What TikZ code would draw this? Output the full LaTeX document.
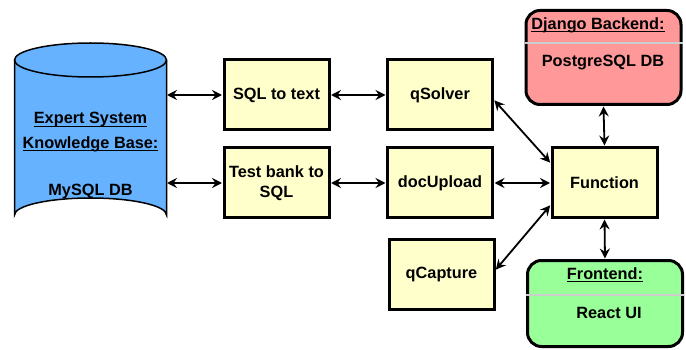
\documentclass[tikz,border=0pt]{standalone}
\usepackage{fontspec}
\setmainfont{Liberation Sans}
\usetikzlibrary{arrows.meta}
\definecolor{dbblue}{HTML}{66B2FF}
\definecolor{boxyellow}{HTML}{FFFFCC}
\definecolor{djred}{HTML}{FF9999}
\definecolor{fegreen}{HTML}{99FF99}
\newcommand\myul[1]{\setbox0\hbox{#1}\rlap{\color{black}\vrule width\wd0 height -1.6pt depth 3pt}\box0}
\tikzset{
  ybox/.style={draw=black, line width=3pt, fill=boxyellow, minimum width=105pt, minimum height=70pt, align=center, inner sep=2pt, font=\fontsize{16.3}{20}\selectfont\bfseries},
  rbox/.style={draw=black, line width=3pt, rounded corners=14pt, minimum width=155pt, align=center},
  lbl/.style={font=\fontsize{16.3}{20}\selectfont\bfseries, inner sep=0pt},
  conn/.style={line width=1.8pt, {Stealth[length=10pt,width=10pt,inset=3.5pt]}-{Stealth[length=10pt,width=10pt,inset=3.5pt]}, shorten <=0.5pt, shorten >=0.5pt}
}
\begin{document}
\begin{tikzpicture}[x=1pt,y=-1pt]
\useasboundingbox (0,0) rectangle (686,350);
% cylinder
\fill[dbblue] (14.5,60) -- (14.5,215) arc[start angle=180,end angle=360,x radius=76,y radius=17] -- (166.5,60) arc[start angle=0,end angle=-180,x radius=76,y radius=17] -- cycle;
\draw[line width=1.5pt] (14.5,60) -- (14.5,215) arc[start angle=180,end angle=360,x radius=76,y radius=17] -- (166.5,60);
\draw[line width=1.5pt] (90.5,60) ellipse[x radius=76,y radius=17];
\node[lbl] (es) at (90.5,120) {\myul{Expert System}};
\node[lbl] (kb) at (90.5,144) {\myul{Knowledge Base:}};
\node[lbl] (my) at (90.5,192) {MySQL DB};
\coordinate (cylA) at (166.5,95);
\coordinate (cylB) at (166.5,183);
% yellow boxes
\node[ybox] (sql) at (276.5,95) {SQL to text};
\node[ybox] (tb) at (276.5,183) {Test bank to\\SQL};
\node[ybox] (qs) at (440,95) {qSolver};
\node[ybox] (du) at (440,183) {docUpload};
\node[ybox] (qc) at (441.5,274.5) {qCapture};
\node[ybox] (fn) at (604.5,182.5) {Function};
% rounded boxes
\node[rbox, fill=djred, minimum height=94pt] (dj) at (603.5,57.5) {};
\draw[line width=1.5pt, gray!40] (dj.west |- 0,43) -- (dj.east |- 0,43);
\node[lbl] (djt) at (598,25) {\myul{Django Backend:}};
\node[lbl] (djb) at (603,63) {PostgreSQL DB};
\node[rbox, fill=fegreen, minimum height=86pt] (fe) at (605,303.5) {};
\draw[line width=1.5pt, gray!40] (fe.west |- 0,295) -- (fe.east |- 0,295);
\node[lbl] (fet) at (605,275) {\myul{Frontend:}};
\node[lbl] (feb) at (609,313) {React UI};
% connectors
\draw[conn] (cylA) -- (sql.west);
\draw[conn] (cylB) -- (tb.west);
\draw[conn] (sql.east) -- (qs.west);
\draw[conn] (tb.east) -- (du.west);
\draw[conn] (qs.east |- 0,100) -- (fn.west |- 0,163);
\draw[conn] (du.east) -- (fn.west |- 0,183);
\draw[conn] (qc.east |- 0,270) -- (fn.west |- 0,205);
\draw[conn] (fn.north) -- (dj.south);
\draw[conn] (fn.south) -- (fe.north);
\end{tikzpicture}
\end{document}
